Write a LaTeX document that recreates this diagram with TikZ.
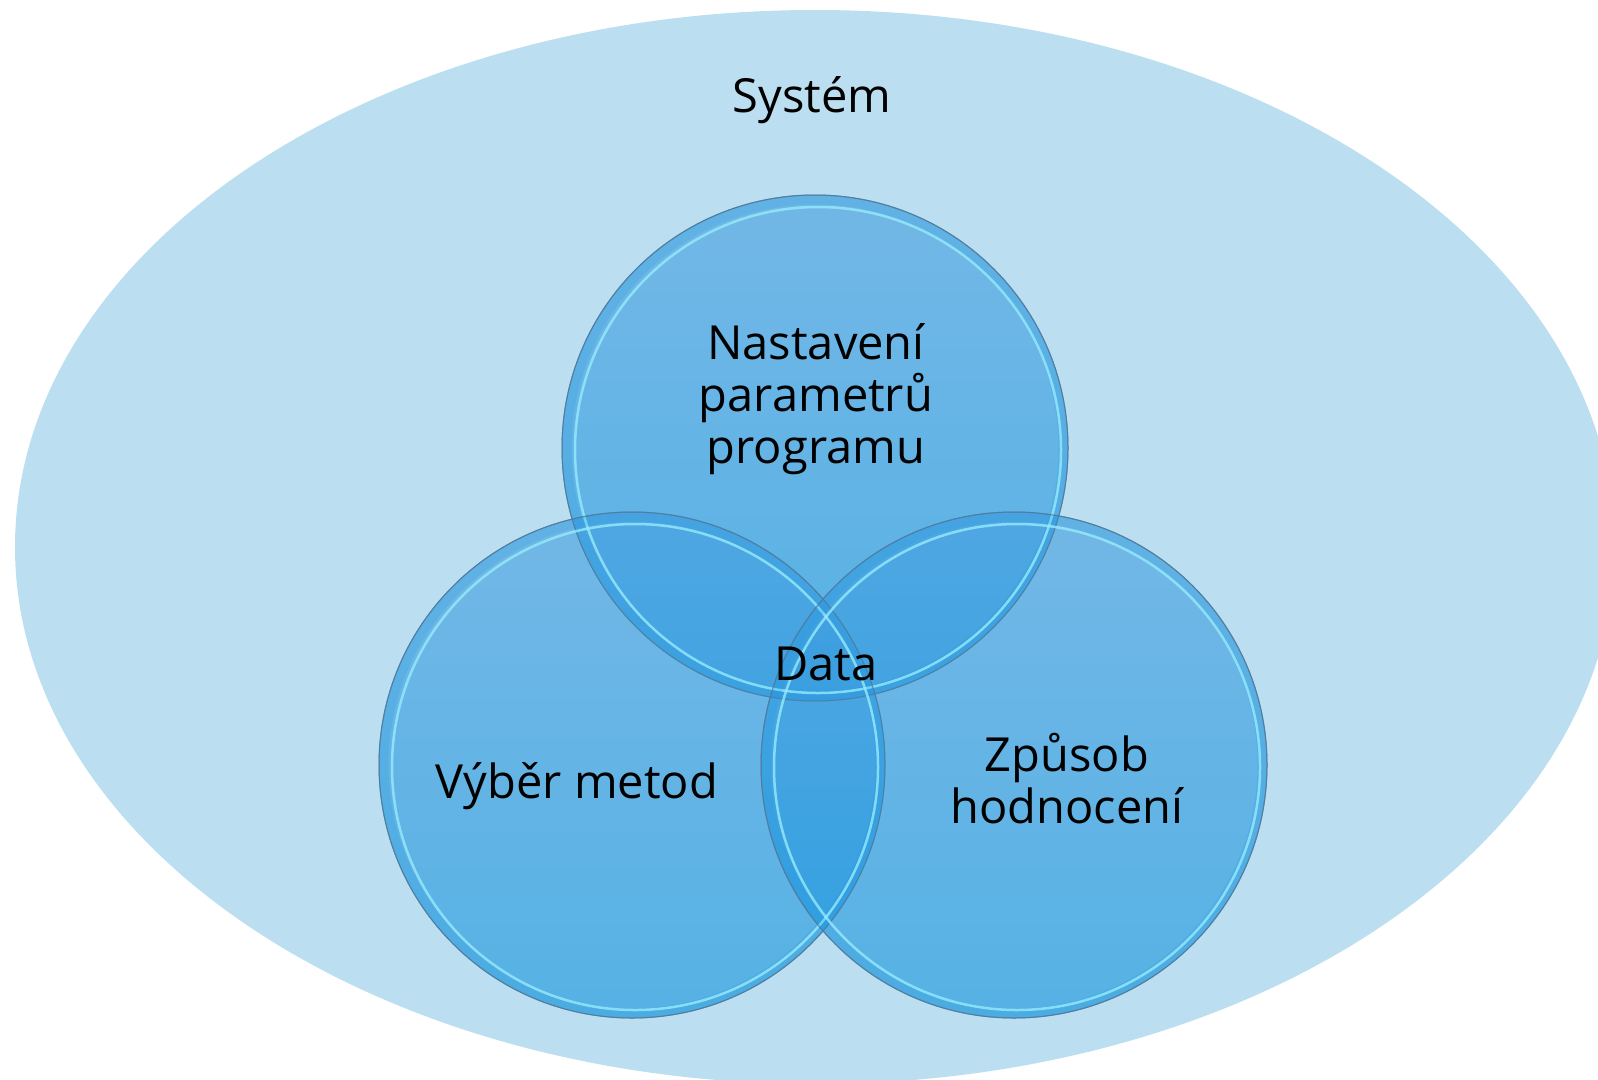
\documentclass[tikz,border=0pt]{standalone}
\usepackage{fontspec}
\setmainfont{Open Sans}
\usetikzlibrary{shapes.geometric}
\definecolor{bgell}{RGB}{187,223,240}
\definecolor{ctop}{RGB}{70,160,225}
\definecolor{cbot}{RGB}{25,150,222}
\definecolor{rimline}{RGB}{80,125,160}
\definecolor{glow}{RGB}{150,235,252}
\tikzset{
  venn/.style={circle, minimum size=506pt, inner sep=0pt, top color=ctop, bottom color=cbot, fill opacity=0.62, draw=rimline, draw opacity=0.85, line width=1pt},
  rimband/.style={draw=cbot, draw opacity=0.18, line width=9pt},
  glowring/.style={draw=glow, draw opacity=0.8, line width=2.5pt},
  lbl/.style={anchor=base, align=center, inner sep=0pt, font=\fontsize{47}{52}\selectfont, text=black}
}
\begin{document}
\begin{tikzpicture}[x=1pt,y=-1pt]
\useasboundingbox (0,0) rectangle (1598,1079);
\begin{scope}
\clip (0,0) rectangle (1598,1079);
\node[ellipse, fill=bgell, minimum width=1600pt, minimum height=1074pt, inner sep=0pt] (sys) at (815,547) {};
\end{scope}
\node[venn] (ctopc) at (815,448) {};
\node[venn] (cleft) at (632,765) {};
\node[venn] (cright) at (1014,765) {};
\foreach \c in {ctopc,cleft,cright}{
  \draw[rimband] (\c.center) circle (248);
  \draw[glowring] ([shift={(3,2)}]\c.center) circle (243);
  \draw[draw=rimline, draw opacity=0.85, line width=1pt] (\c.center) circle (253);
}
\node[lbl] (tsys) at (812,112) {Systém};
\node[lbl] (tpar) at (816,463) {Nastavení\\parametrů\\programu};
\node[lbl] (tdata) at (826,680) {Data};
\node[lbl] (tmet) at (577,798) {Výběr metod};
\node[lbl] (thod) at (1067,823) {Způsob\\hodnocení};
\end{tikzpicture}
\end{document}
